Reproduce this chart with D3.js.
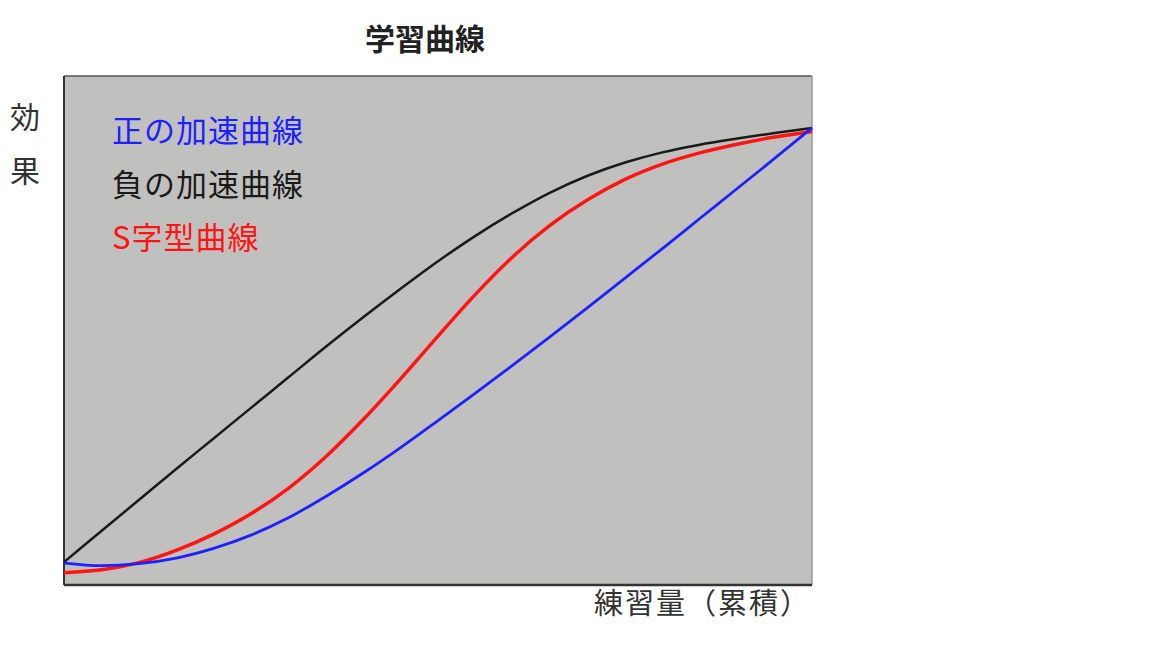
<!DOCTYPE html>
<html lang="ja">
<head>
  <meta charset="UTF-8">
  <title>学習曲線</title>
  <script src="https://d3js.org/d3.v7.min.js"></script>
  <style>
    body { margin: 0; background: #fff; }
    text { font-family: "Noto Sans CJK JP", "Noto Sans", sans-serif; }
  </style>
</head>
<body>
  <div id="chart"></div>
  <script>
    // practice amount (x) and effect (y) for each curve
    const practice = [0, 5, 10, 15, 20, 25, 30, 35, 40, 45, 50, 55, 60, 65, 70, 75, 80, 85, 90, 95, 100];
    const positiveCurve = [4.3, 3.8, 4.2, 5.3, 7.2, 9.8, 13.2, 17.4, 22.0, 27.0, 32.3, 37.7, 43.2, 48.8, 54.5, 60.3, 66.1, 72.0, 77.9, 83.8, 89.8];
    const negativeCurve = [4.5, 10.6, 16.7, 22.8, 28.8, 34.8, 40.8, 46.8, 52.6, 58.2, 63.6, 68.6, 73.1, 77.1, 80.4, 83.0, 85.0, 86.5, 87.7, 88.8, 89.8];
    const sCurve = [2.4, 3.0, 4.4, 6.8, 10.0, 14.0, 19.0, 25.2, 32.5, 40.5, 48.9, 57.1, 64.5, 70.7, 75.7, 79.7, 82.7, 84.9, 86.6, 88.0, 89.1];

    const seriesNames = ["正の加速曲線", "負の加速曲線", "S字型曲線"];
    const seriesColors = ["#2020ff", "#1a1a1a", "#ff1414"];

    const title = "学習曲線";
    const yLabel = ["効", "果"];
    const xLabel = "練習量（累積）";

    // dimensions
    const W = 1168, H = 662;
    const margin = { top: 76, right: 356, bottom: 77, left: 64 };
    const width = W - margin.left - margin.right;
    const height = H - margin.top - margin.bottom;

    const svg = d3.select("#chart")
      .append("svg")
      .attr("width", W)
      .attr("height", H);

    const g = svg.append("g")
      .attr("transform", `translate(${margin.left},${margin.top})`);

    const x = d3.scaleLinear().domain([0, 100]).range([0, width]);
    const y = d3.scaleLinear().domain([0, 100]).range([height, 0]);

    // plot background
    g.append("rect")
      .attr("width", width)
      .attr("height", height)
      .attr("fill", "#c0c1bf");

    // frame: dark left/bottom, lighter top/right
    g.append("line").attr("x1", 0).attr("x2", width).attr("y1", 0).attr("y2", 0)
      .attr("stroke", "#555").attr("stroke-width", 1.5);
    g.append("line").attr("x1", width).attr("x2", width).attr("y1", 0).attr("y2", height)
      .attr("stroke", "#999").attr("stroke-width", 1.5);
    g.append("line").attr("x1", 0).attr("x2", 0).attr("y1", 0).attr("y2", height)
      .attr("stroke", "#333").attr("stroke-width", 2);
    g.append("line").attr("x1", 0).attr("x2", width).attr("y1", height).attr("y2", height)
      .attr("stroke", "#333").attr("stroke-width", 2.5);

    const line = d3.line()
      .x((d, i) => x(practice[i]))
      .y(d => y(d))
      .curve(d3.curveMonotoneX);

    // black, red, then blue on top
    const curves = [
      { values: negativeCurve, color: seriesColors[1], w: 2.5 },
      { values: sCurve, color: seriesColors[2], w: 3.5 },
      { values: positiveCurve, color: seriesColors[0], w: 2.8 }
    ];

    g.selectAll(".curve")
      .data(curves)
      .enter()
      .append("path")
      .attr("class", "curve")
      .attr("d", d => line(d.values))
      .attr("fill", "none")
      .attr("stroke", d => d.color)
      .attr("stroke-width", d => d.w);

    // legend text inside the plot
    g.selectAll(".legend")
      .data(seriesNames)
      .enter()
      .append("text")
      .attr("class", "legend")
      .attr("x", 48)
      .attr("y", (d, i) => 66 + i * 53.5)
      .attr("font-size", 31)
      .attr("letter-spacing", 1)
      .attr("fill", (d, i) => seriesColors[i])
      .text(d => d);

    // title
    svg.append("text")
      .attr("x", 425)
      .attr("y", 50)
      .attr("text-anchor", "middle")
      .attr("font-size", 30)
      .attr("font-weight", "bold")
      .attr("fill", "#222")
      .text(title);

    // y label, written vertically
    svg.selectAll(".ylab")
      .data(yLabel)
      .enter()
      .append("text")
      .attr("class", "ylab")
      .attr("x", 25)
      .attr("y", (d, i) => 128 + i * 54)
      .attr("text-anchor", "middle")
      .attr("font-size", 30)
      .attr("fill", "#333")
      .text(d => d);

    // x label
    svg.append("text")
      .attr("x", 594)
      .attr("y", 614)
      .attr("font-size", 29)
      .attr("letter-spacing", 2)
      .attr("fill", "#333")
      .text(xLabel);
  </script>
</body>
</html>
